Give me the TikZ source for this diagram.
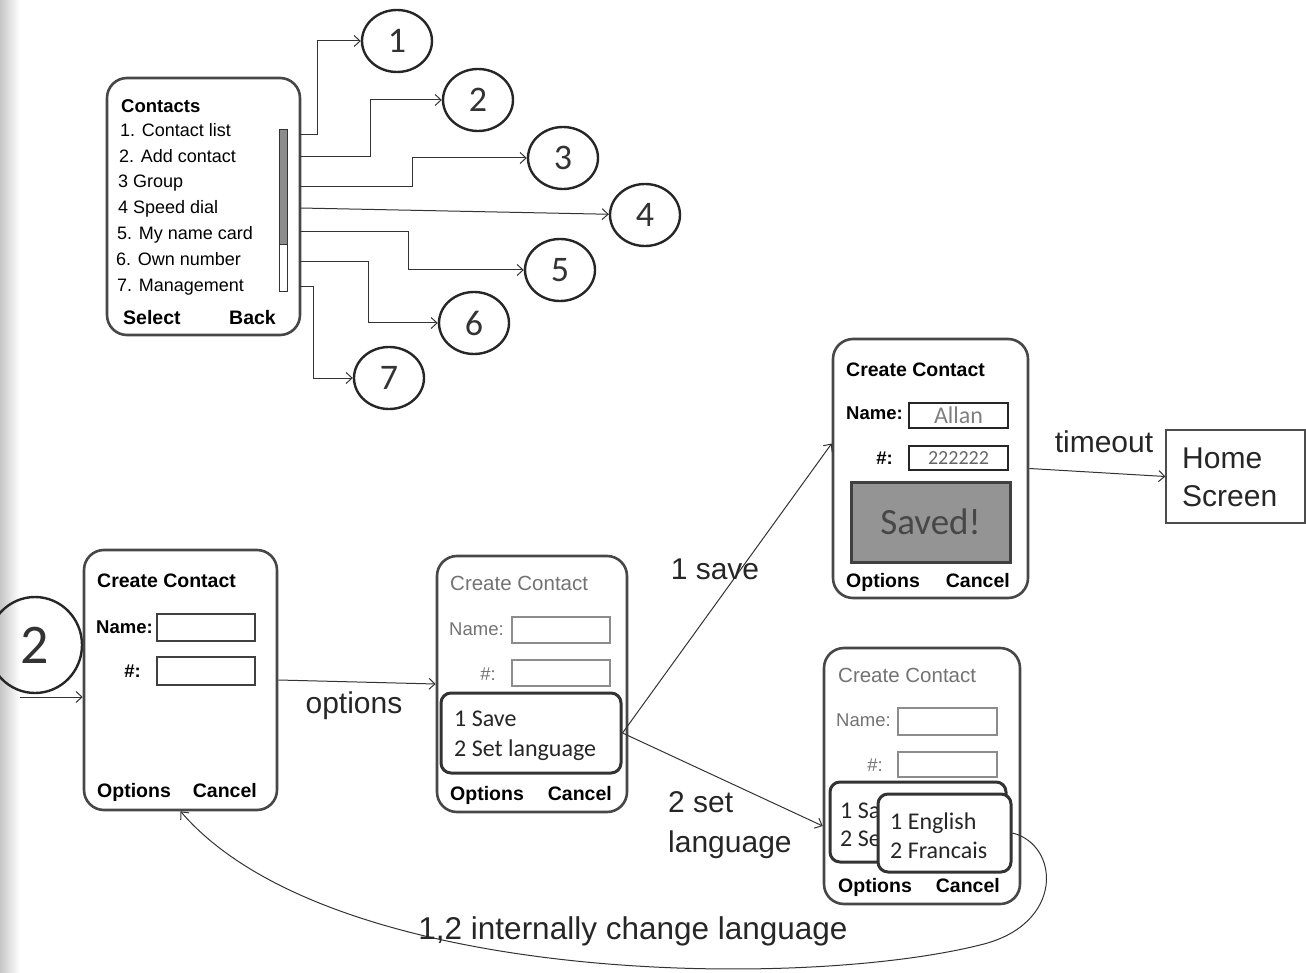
\documentclass[tikz,border=0pt]{standalone}
\usepackage{fontspec}
\setmainfont{Liberation Sans}
\newfontfamily\calfont{Carlito}
\usetikzlibrary{arrows.meta,shapes.geometric,calc}
\newcommand{\fsz}[1]{\fontsize{#1}{#1}\selectfont}
\begin{document}
\begin{tikzpicture}[x=1pt,y=-1pt,
  screen/.style={draw=black!72, line width=2.6pt, rounded corners=20pt, fill=white, inner sep=0pt},
  menubox/.style={draw=black!80, line width=3pt, rounded corners=10pt, fill=white, inner sep=0pt},
  field/.style={draw=#1, line width=2.6pt, fill=white, inner sep=0pt},
  txt/.style={anchor=mid west, inner sep=0pt, yshift=-3pt},
  txte/.style={anchor=mid east, inner sep=0pt, yshift=-3pt},
  item/.style={txt, font=\fsz{18}},
  bld/.style={font=\bfseries\fsz{19.5}},
  grey/.style={text=black!55, font=\fsz{20.5}},
  menutxt/.style={txt, font=\calfont\fsz{24}, text=black!85, yshift=-1.5pt},
  num/.style={ellipse, draw=black!85, line width=2.4pt, minimum width=70pt, minimum height=62pt, inner sep=0pt, font=\calfont\fsz{36}, text=black!80},
  conn/.style={draw=black!80, line width=1pt, -{Straight Barb[length=6pt,width=11pt]}},
  lbl/.style={inner sep=0pt, font=\fsz{30}, text=black!85}
]
\useasboundingbox (0,0) rectangle (1306,973);
% scan shadow on the left edge
\fill[left color=black!22, right color=white] (0,0) rectangle (20,973);

% ---------- Contacts screen ----------
\node[screen, minimum width=193pt, minimum height=257pt] (S0) at (203.5,206.5) {};
\node[txt, font=\bfseries\fsz{18.5}] (t0) at (121,107) {Contacts};
\node[item] (i1) at (120,131) {1. Contact list};
\node[item] (i2) at (119,157) {2. Add contact};
\node[item] (i3) at (118,182) {3 Group};
\node[item] (i4) at (118,208) {4 Speed dial};
\node[item] (i5) at (117,234) {5. My name card};
\node[item] (i6) at (116,260) {6. Own number};
\node[item] (i7) at (117,286) {7. Management};
\node[txt, font=\bfseries\fsz{19.5}] (sel) at (123,319) {Select};
\node[txte, font=\bfseries\fsz{19.5}] (back) at (276,319) {Back};
\node[draw=black!80, line width=1pt, fill=white, minimum width=8pt, minimum height=162pt, inner sep=0pt] (sb) at (283,211) {};
\node[draw=black!80, line width=1pt, fill=black!45, minimum width=8pt, minimum height=115pt, inner sep=0pt] (sbth) at (283,187.5) {};

% numbered targets
\node[num] (c1) at (397,41) {1};
\node[num] (c2) at (478,100) {2};
\node[num] (c3) at (563,158) {3};
\node[num] (c4) at (645,215) {4};
\node[num] (c5) at (560,270) {5};
\node[num] (c6) at (474,323) {6};
\node[num] (c7) at (389,378) {7};

\coordinate (o1) at (300,135);
\coordinate (o2) at (300,157);
\coordinate (o3) at (300,187);
\coordinate (o4) at (300,208);
\coordinate (o5) at (300,232);
\coordinate (o6) at (300,262);
\coordinate (o7) at (300,287);
\draw[conn] (o1) -- ++(17,0) |- (c1);
\draw[conn] (o2) -- ++(70,0) |- (c2);
\draw[conn] (o3) -- ++(112,0) |- (c3);
\draw[conn] (o4) -- (c4);
\draw[conn] (o5) -- ++(108,0) |- (c5);
\draw[conn] (o6) -- ++(68,0) |- (c6);
\draw[conn] (o7) -- ++(13,0) |- (c7);

% ---------- Screen A ----------
\node[num, minimum width=94pt, minimum height=96pt, font=\calfont\fsz{56}] (big2) at (35,645) {2};
\node[screen, minimum width=193pt, minimum height=260pt] (A) at (180.5,680) {};
\node[txt, bld] (at) at (97,582) {Create Contact};
\node[txt, font=\bfseries\fsz{18.5}] (an) at (96,628) {Name:};
\node[field=black!75, minimum width=98pt, minimum height=27pt] (af1) at (206,627.5) {};
\node[txte, font=\bfseries\fsz{18.5}] (ah) at (141,672) {\#:};
\node[field=black!75, minimum width=98pt, minimum height=28pt] (af2) at (206,671) {};
\node[txt, bld] (ao) at (97,792) {Options};
\node[txte, bld] (ac) at (257,792) {Cancel};
\coordinate (in2) at (20,697);
\draw[conn] (in2) -- (in2 -| A.west);

% ---------- Screen B ----------
\node[screen, minimum width=190pt, minimum height=256pt] (B) at (532,684) {};
\node[txt, grey] (bt) at (450,585) {Create Contact};
\node[txt, grey, font=\fsz{18.5}] (bn) at (449,630) {Name:};
\node[field=black!45, minimum width=98pt, minimum height=26pt] (bf1) at (561,630) {};
\node[txte, grey, font=\fsz{18.5}] (bh) at (496,675) {\#:};
\node[field=black!45, minimum width=98pt, minimum height=26pt] (bf2) at (561,673) {};
\node[menubox, minimum width=180pt, minimum height=80pt] (Bm) at (531,733) {};
\node[menutxt] (bm1) at (454,719) {1 Save};
\node[menutxt] (bm2) at (454,749) {2 Set language};
\node[txt, bld] (bo) at (450,795) {Options};
\node[txte, bld] (bc) at (612,795) {Cancel};

\draw[conn] (A.east) -- (B.west);
\node[lbl] (lopt) at (354,706) {options};

% ---------- Screen C ----------
\node[screen, minimum width=195pt, minimum height=259pt] (C) at (930.5,468.5) {};
\node[txt, bld] (ct) at (846,371) {Create Contact};
\node[txt, font=\bfseries\fsz{18.5}] (cn) at (846,414) {Name:};
\node[field=black!85, minimum width=99pt, minimum height=25pt, font=\calfont\fsz{24}, text=black!50] (cf1) at (958.5,415.5) {Allan};
\node[txte, font=\bfseries\fsz{18.5}] (ch) at (893,459) {\#:};
\node[field=black!85, minimum width=99pt, minimum height=24pt, font=\calfont\fsz{20}, text=black!60] (cf2) at (958.5,458) {222222};
\node[draw=black!75, line width=3pt, fill=black!42, minimum width=159pt, minimum height=80pt, inner sep=0pt, font=\calfont\fsz{37}, text=black!72] (saved) at (930.5,522) {Saved!};
\node[txt, bld] (co) at (846,582) {Options};
\node[txte, bld] (cc) at (1010,582) {Cancel};

% ---------- Home screen ----------
\node[draw=black!70, line width=1.2pt, fill=white, minimum width=139pt, minimum height=93pt, inner sep=0pt] (home) at (1235.5,476.5) {};
\node[anchor=west, inner sep=0pt, align=left, font=\fontsize{30}{38}\selectfont, text=black!85] (homet) at (1182,477) {Home\\Screen};
\draw[conn] (C.east) -- (home.west);
\node[lbl] (lto) at (1104,442) {timeout};

% ---------- Screen D ----------
\node[screen, minimum width=196pt, minimum height=256pt] (D) at (922,776) {};
\node[txt, grey] (dt) at (838,677) {Create Contact};
\node[txt, grey, font=\fsz{18.5}] (dn) at (836,721) {Name:};
\node[field=black!45, minimum width=99pt, minimum height=27pt] (df1) at (947.5,721.5) {};
\node[txte, grey, font=\fsz{18.5}] (dh) at (883,766) {\#:};
\node[field=black!45, minimum width=99pt, minimum height=25pt] (df2) at (947.5,764.5) {};
\node[menubox, minimum width=176pt, minimum height=80pt] (Dm) at (918,822) {};
\node[menutxt] (dm1) at (840,811) {1 Sa};
\node[menutxt] (dm2) at (840,839) {2 Se};
\node[menubox, minimum width=133pt, minimum height=78pt] (Df) at (944.5,833) {};
\node[menutxt] (df3) at (890,822) {1 English};
\node[menutxt] (df4) at (890,851) {2 Francais};
\node[txt, bld] (do) at (838,887) {Options};
\node[txte, bld] (dc) at (1000,887) {Cancel};

% ---------- transitions ----------
\draw[conn] (Bm.east) -- ([yshift=25pt]C.west);
\node[lbl] (lsave) at (715,569) {1 save};
\draw[conn] (Bm.east) -- ([yshift=-50pt]D.west);
\node[lbl, anchor=west, align=left, font=\fontsize{30}{40}\selectfont] (lset) at (668,825) {2 set\\language};

\draw[conn] (Df.east) .. controls (1060,845) and (1065,925) .. (980,945)
  .. controls (800,990) and (330,985) .. (A.south);
\node[lbl, font=\fsz{31.5}] (lchg) at (633,931) {1,2 internally change language};
\end{tikzpicture}
\end{document}
